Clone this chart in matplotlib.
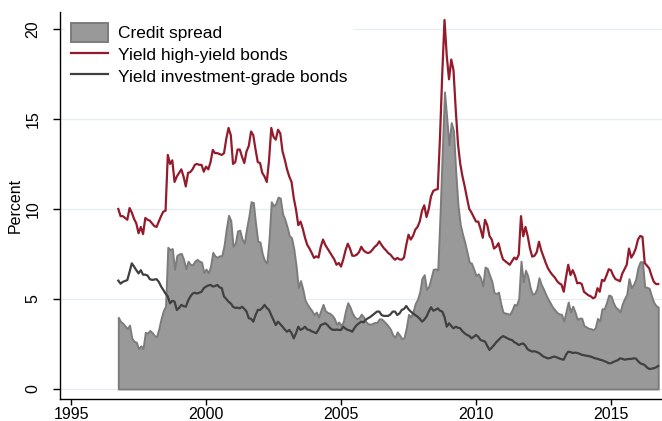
import matplotlib
matplotlib.use("Agg")
import matplotlib.pyplot as plt
import numpy as np
import pandas as pd
from matplotlib.patches import Patch
from matplotlib.lines import Line2D

# monthly observations, Oct 1996 - Oct 2016
months = pd.date_range("1996-10-01", "2016-10-01", freq="MS")

hy_yield = [
    10.0, 9.6, 9.6,                                                       # 1996
    9.5, 9.4, 10.05, 9.8, 9.45, 9.2, 8.65, 9.0, 8.6, 9.5, 9.4, 9.35,      # 1997
    9.2, 9.05, 9.0, 9.3, 9.6, 9.85, 9.9, 13.0, 12.5, 12.7, 11.5, 11.8,    # 1998
    12.0, 12.2, 11.8, 11.25, 12.0, 12.05, 12.2, 12.45, 12.5, 12.45, 12.45, 12.07,  # 1999
    12.35, 12.2, 12.6, 13.28, 13.1, 13.1, 13.05, 13.0, 13.1, 13.9, 14.5, 14.1,     # 2000
    12.5, 12.6, 13.3, 13.3, 12.9, 12.55, 13.2, 13.5, 14.3, 14.1, 13.3, 12.6,       # 2001
    12.55, 12.0, 11.8, 11.5, 12.7, 14.5, 14.0, 13.85, 14.4, 14.2, 13.2, 12.74,     # 2002
    12.2, 11.8, 11.5, 10.6, 9.96, 9.1, 9.3, 8.9, 8.4, 8.0, 7.8, 7.55,     # 2003
    7.28, 7.37, 7.3, 7.9, 8.3, 8.0, 7.8, 7.6, 7.4, 7.2, 6.9, 7.0,         # 2004
    6.8, 7.2, 7.7, 8.07, 7.8, 7.4, 7.4, 7.46, 7.6, 7.9, 7.7, 7.6,         # 2005
    7.55, 7.6, 7.74, 7.9, 8.0, 8.2, 8.0, 7.83, 7.7, 7.55, 7.46, 7.3,      # 2006
    7.18, 7.28, 7.2, 7.18, 7.3, 8.0, 8.57, 8.3, 8.5, 8.85, 9.0, 9.3,      # 2007
    9.9, 10.2, 9.55, 10.0, 10.7, 11.0, 11.07, 11.1, 14.0, 17.5, 20.5, 18.5,  # 2008
    17.2, 18.3, 17.7, 15.5, 13.6, 12.5, 11.8, 11.24, 10.6, 10.0, 9.8, 9.55,  # 2009
    9.3, 9.3, 8.9, 8.4, 9.4, 9.1, 8.5, 8.3, 7.8, 7.9, 8.1, 7.6,           # 2010
    7.2, 7.1, 7.0, 6.9, 7.1, 7.3, 7.2, 7.46, 9.6, 8.48, 9.0, 8.48,        # 2011
    7.8, 7.35, 7.4, 7.6, 8.18, 7.7, 7.35, 7.0, 6.7, 6.5, 6.33, 6.2,       # 2012
    6.0, 5.87, 5.8, 5.4, 6.2, 6.9, 6.33, 6.6, 6.3, 5.87, 5.9, 5.83,       # 2013
    5.4, 5.3, 5.2, 5.15, 5.04, 5.1, 5.6, 5.4, 6.06, 6.0, 6.3, 6.65,       # 2014
    6.6, 6.3, 6.1, 6.05, 5.98, 6.4, 6.65, 6.9, 7.8, 7.3, 7.5, 7.8,        # 2015
    8.3, 8.5, 8.45, 7.0, 6.85, 6.7, 6.3, 5.96, 5.83, 5.83,                # 2016
]

ig_yield = [
    6.02, 5.85, 5.95,                                                     # 1996
    6.0, 6.05, 6.5, 6.98, 6.8, 6.6, 6.42, 6.6, 6.35, 6.35, 6.3, 6.1,      # 1997
    6.06, 6.08, 6.1, 5.95, 5.7, 5.5, 5.3, 5.13, 4.76, 4.9, 4.85, 4.39,    # 1998
    4.5, 4.67, 4.6, 4.57, 4.9, 5.13, 5.3, 5.35, 5.3, 5.35, 5.4, 5.6,      # 1999
    5.69, 5.75, 5.78, 5.69, 5.72, 5.78, 5.65, 5.6, 5.13, 5.0, 4.85, 4.75, # 2000
    4.57, 4.5, 4.52, 4.48, 4.57, 4.45, 4.3, 3.93, 3.9, 3.74, 4.1, 4.39,   # 2001
    4.39, 4.5, 4.67, 4.5, 4.39, 4.1, 3.83, 3.55, 3.74, 3.6, 3.46, 3.3,    # 2002
    3.18, 3.28, 3.1, 2.81, 3.1, 3.46, 3.28, 3.35, 3.46, 3.3, 3.28, 3.2,   # 2003
    3.15, 3.1, 3.3, 3.55, 3.6, 3.65, 3.55, 3.4, 3.3, 3.28, 3.3, 3.28,     # 2004
    3.28, 3.46, 3.35, 3.28, 3.25, 3.18, 3.4, 3.55, 3.65, 3.74, 3.7, 3.85, # 2005
    3.93, 4.0, 4.1, 4.2, 4.3, 4.3, 4.11, 4.06, 4.06, 4.06, 4.15, 4.3,     # 2006
    4.3, 4.11, 4.2, 4.39, 4.45, 4.61, 4.43, 4.3, 4.2, 4.1, 4.02, 3.9,     # 2007
    3.74, 3.85, 4.02, 4.3, 4.54, 4.35, 4.4, 4.48, 4.35, 4.3, 4.0, 3.46,   # 2008
    3.65, 3.5, 3.37, 3.46, 3.4, 3.37, 3.2, 3.09, 3.0, 2.95, 2.81, 2.9,    # 2009
    3.0, 2.9, 2.72, 2.68, 2.63, 2.4, 2.17, 2.3, 2.44, 2.6, 2.72, 2.85,    # 2010
    2.94, 2.88, 2.81, 2.75, 2.72, 2.6, 2.54, 2.44, 2.5, 2.53, 2.4, 2.2,   # 2011
    2.13, 2.08, 2.1, 2.05, 2.0, 1.9, 1.8, 1.75, 1.7, 1.72, 1.78, 1.8,     # 2012
    1.75, 1.7, 1.65, 1.63, 1.9, 2.07, 2.05, 2.0, 2.02, 2.0, 1.96, 1.9,    # 2013
    1.88, 1.85, 1.83, 1.8, 1.75, 1.7, 1.68, 1.63, 1.6, 1.55, 1.5, 1.43,   # 2014
    1.43, 1.5, 1.55, 1.6, 1.7, 1.68, 1.63, 1.65, 1.67, 1.67, 1.7, 1.7,    # 2015
    1.55, 1.43, 1.38, 1.33, 1.2, 1.11, 1.13, 1.15, 1.2, 1.28,             # 2016
]

credit_spread = [
    3.98, 3.75, 3.65,                                                     # 1996
    3.5, 3.35, 3.55, 2.82, 2.65, 2.6, 2.23, 2.4, 2.25, 3.15, 3.1, 3.25,   # 1997
    3.14, 2.97, 2.9, 3.35, 3.9, 4.35, 4.6, 7.87, 7.74, 7.8, 6.65, 7.41,   # 1998
    7.5, 7.53, 7.2, 6.68, 7.1, 6.92, 6.9, 7.1, 7.2, 7.1, 7.05, 6.47,      # 1999
    6.66, 6.45, 6.82, 7.59, 7.38, 7.32, 7.4, 7.4, 7.97, 8.9, 9.65, 9.35,  # 2000
    7.93, 8.1, 8.78, 8.82, 8.33, 8.1, 8.9, 9.57, 10.4, 10.36, 9.2, 8.21,  # 2001
    8.16, 7.5, 7.13, 7.0, 8.31, 10.4, 10.17, 10.3, 10.66, 10.6, 9.74, 9.44,  # 2002
    9.02, 8.52, 8.4, 7.79, 6.86, 5.64, 6.02, 5.55, 4.94, 4.7, 4.52, 4.35, # 2003
    4.13, 4.27, 4.0, 4.35, 4.7, 4.35, 4.25, 4.2, 4.1, 3.92, 3.6, 3.72,    # 2004
    3.52, 3.74, 4.35, 4.79, 4.55, 4.22, 4.0, 3.91, 3.95, 4.16, 4.0, 3.75, # 2005
    3.62, 3.6, 3.64, 3.7, 3.7, 3.9, 3.89, 3.77, 3.64, 3.49, 3.31, 3.0,    # 2006
    2.88, 3.17, 3.0, 2.79, 2.85, 3.39, 4.14, 4.0, 4.3, 4.75, 4.98, 5.4,   # 2007
    6.16, 6.35, 5.53, 5.7, 6.16, 6.65, 6.67, 6.62, 9.65, 13.2, 16.5, 15.04,  # 2008
    13.55, 14.8, 14.33, 12.04, 10.2, 9.13, 8.6, 8.15, 7.6, 7.05, 6.99, 6.65,  # 2009
    6.3, 6.4, 6.18, 5.72, 6.77, 6.7, 6.33, 6.0, 5.36, 5.3, 5.38, 4.75,    # 2010
    4.26, 4.22, 4.19, 4.15, 4.38, 4.7, 4.66, 5.02, 7.1, 5.95, 6.6, 6.28,  # 2011
    5.67, 5.27, 5.3, 5.55, 6.18, 5.8, 5.55, 5.25, 5.0, 4.78, 4.55, 4.4,   # 2012
    4.25, 4.17, 4.15, 3.77, 4.3, 4.83, 4.28, 4.6, 4.28, 3.87, 3.94, 3.93, # 2013
    3.52, 3.45, 3.37, 3.35, 3.29, 3.4, 3.92, 3.77, 4.46, 4.45, 4.8, 5.22, # 2014
    5.17, 4.8, 4.55, 4.45, 4.28, 4.72, 5.02, 5.25, 6.13, 5.63, 5.8, 6.1,  # 2015
    6.75, 7.07, 7.07, 5.67, 5.65, 5.59, 5.17, 4.81, 4.63, 4.55,           # 2016
]

x_ticks = [1995, 2000, 2005, 2010, 2015]
y_ticks = [0, 5, 10, 15, 20]

plt.rcParams['font.family'] = ['Liberation Sans', 'DejaVu Sans']

# decimal years for the x axis
t = months.year + (months.month - 1) / 12.0

red = '#931b2b'
dark = '#404040'
fill_col = '#999999'
edge_col = '#7c7c7c'

fig = plt.figure(figsize=(6.62, 4.21), dpi=100)
ax = fig.add_axes([60 / 662, 22 / 421, 1 - 60 / 662, 387 / 421])

ax.fill_between(t, 0, credit_spread, facecolor=fill_col, edgecolor=edge_col,
                linewidth=1.4, zorder=2)
ax.plot(t, hy_yield, color=red, linewidth=1.6, zorder=3)
ax.plot(t, ig_yield, color=dark, linewidth=1.6, zorder=4)

ax.set_xlim(1994.59, 2016.89)
ax.set_ylim(-0.556, 20.94)
ax.set_xticks(x_ticks)
ax.set_yticks(y_ticks)
ax.set_yticklabels([str(v) for v in y_ticks], rotation=90, va='center')
ax.tick_params(axis='both', labelsize=11.5, width=1, color='black')
ax.tick_params(axis='x', length=4.3, pad=1.2)
ax.tick_params(axis='y', length=5, pad=9)
ax.set_ylabel('Percent', fontsize=11.5)
ax.yaxis.set_label_coords(-0.062, 0.5)

ax.grid(axis='y', color='#e6eef0', linewidth=1.0, zorder=0)
ax.set_axisbelow(True)
for side in ['top', 'right']:
    ax.spines[side].set_visible(False)
for side in ['left', 'bottom']:
    ax.spines[side].set_linewidth(1.0)

handles = [
    Patch(facecolor=fill_col, edgecolor=edge_col, linewidth=1.4),
    Line2D([], [], color=red, linewidth=1.6),
    Line2D([], [], color=dark, linewidth=1.6),
]
labels = ['Credit spread', 'Yield high-yield bonds', 'Yield investment-grade bonds']
leg = ax.legend(handles, labels, loc='upper left', bbox_to_anchor=(0.0, 1.0),
                fontsize=12.5, frameon=True, facecolor='white', edgecolor='none',
                framealpha=1.0, fancybox=False, handlelength=2.1, handleheight=1.25,
                handletextpad=0.6, labelspacing=0.2, borderpad=0.35, borderaxespad=0.3)
leg.set_zorder(5)

fig.savefig('out.png', dpi=100)
